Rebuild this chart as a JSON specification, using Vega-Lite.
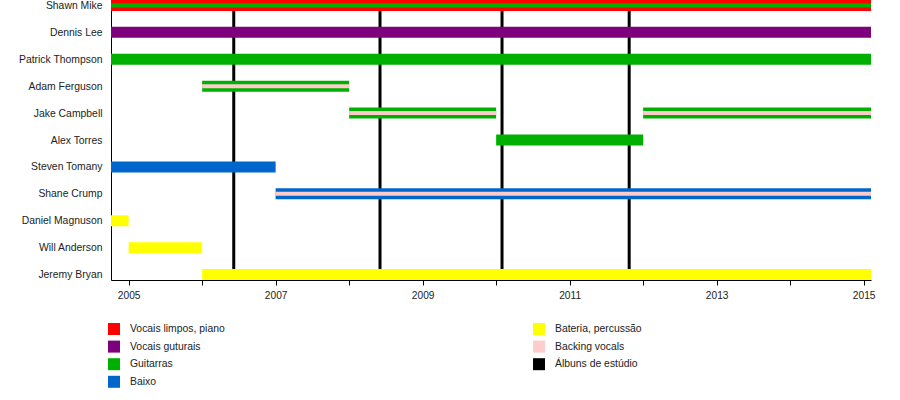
{
  "$schema": "https://vega.github.io/schema/vega-lite/v6.json",
  "autosize": "none",
  "width": 760,
  "height": 280,
  "padding": {"left": 111, "top": 0, "right": 29, "bottom": 120},
  "background": "white",
  "config": {"view": {"stroke": null}, "font": "Liberation Sans"},
  "datasets": {
    "albums": [
      {"album": 1, "date": 2006.43},
      {"album": 2, "date": 2008.42},
      {"album": 3, "date": 2010.08},
      {"album": 4, "date": 2011.81}
    ],
    "bars": [
      {"member": "Shawn Mike", "start": 2004.76, "end": 2015.1, "role": "Vocais limpos, piano"},
      {"member": "Dennis Lee", "start": 2004.76, "end": 2015.1, "role": "Vocais guturais"},
      {"member": "Patrick Thompson", "start": 2004.76, "end": 2015.1, "role": "Guitarras"},
      {"member": "Adam Ferguson", "start": 2006.0, "end": 2008.0, "role": "Guitarras"},
      {"member": "Jake Campbell", "start": 2008.0, "end": 2010.0, "role": "Guitarras"},
      {"member": "Jake Campbell", "start": 2012.0, "end": 2015.1, "role": "Guitarras"},
      {"member": "Alex Torres", "start": 2010.0, "end": 2012.0, "role": "Guitarras"},
      {"member": "Steven Tomany", "start": 2004.76, "end": 2007.0, "role": "Baixo"},
      {"member": "Shane Crump", "start": 2007.0, "end": 2015.1, "role": "Baixo"},
      {"member": "Daniel Magnuson", "start": 2004.76, "end": 2005.0, "role": "Bateria, percussão"},
      {"member": "Will Anderson", "start": 2005.0, "end": 2006.0, "role": "Bateria, percussão"},
      {"member": "Jeremy Bryan", "start": 2006.0, "end": 2015.1, "role": "Bateria, percussão"}
    ],
    "stripes": [
      {"member": "Shawn Mike", "start": 2004.76, "end": 2015.1, "role": "Guitarras"},
      {"member": "Adam Ferguson", "start": 2006.0, "end": 2008.0, "role": "Backing vocals"},
      {"member": "Jake Campbell", "start": 2008.0, "end": 2010.0, "role": "Backing vocals"},
      {"member": "Jake Campbell", "start": 2012.0, "end": 2015.1, "role": "Backing vocals"},
      {"member": "Shane Crump", "start": 2007.0, "end": 2015.1, "role": "Backing vocals"}
    ]
  },
  "layer": [
    {
      "data": {"name": "albums"},
      "mark": {"type": "rule", "color": "black", "strokeWidth": 3},
      "encoding": {
        "x": {"field": "date", "type": "quantitative", "scale": {"domain": [2004.76, 2015.1], "nice": false, "zero": false}}
      }
    },
    {
      "data": {"name": "bars"},
      "mark": {"type": "bar", "height": 11},
      "encoding": {
        "y": {
          "field": "member", "type": "nominal",
          "sort": ["Shawn Mike", "Dennis Lee", "Patrick Thompson", "Adam Ferguson", "Jake Campbell", "Alex Torres", "Steven Tomany", "Shane Crump", "Daniel Magnuson", "Will Anderson", "Jeremy Bryan"],
          "scale": {"type": "point", "padding": 0.2},
          "axis": {"title": null, "ticks": false, "labelPadding": 9, "labelFontSize": 10.4, "labelColor": "#222", "domainColor": "black", "labelFont": "Liberation Sans", "labelDy": 1}
        },
        "x": {
          "field": "start", "type": "quantitative",
          "scale": {"domain": [2004.76, 2015.1], "nice": false, "zero": false},
          "axis": {"title": null, "values": [2005, 2006, 2007, 2008, 2009, 2010, 2011, 2012, 2013, 2014, 2015], "format": "d", "labelExpr": "datum.value % 2 == 1 ? datum.label : ''", "tickSize": 5, "tickColor": "black", "domainColor": "black", "labelFontSize": 10.2, "labelPadding": 5, "labelColor": "#222", "grid": false, "labelFont": "Liberation Sans"}
        },
        "x2": {"field": "end"},
        "color": {
          "field": "role", "type": "nominal",
          "scale": {
            "domain": ["Vocais limpos, piano", "Vocais guturais", "Guitarras", "Baixo", "Bateria, percussão", "Backing vocals", "Álbuns de estúdio"],
            "range": ["#ff0000", "#7d007d", "#00b000", "#0066cc", "#ffff00", "#ffcccc", "#000000"]
          },
          "legend": {"title": null, "orient": "none", "legendX": -3, "legendY": 323, "columns": 2, "direction": "vertical", "columnPadding": 308, "rowPadding": 5.6, "symbolType": "square", "symbolSize": 144, "symbolStrokeWidth": 0, "labelFontSize": 10.4, "labelOffset": 10, "labelFont": "Liberation Sans", "labelColor": "#222", "gridAlign": "all"}
        }
      }
    },
    {
      "data": {"name": "stripes"},
      "mark": {"type": "bar", "height": 4},
      "encoding": {
        "y": {"field": "member", "type": "nominal", "sort": ["Shawn Mike", "Dennis Lee", "Patrick Thompson", "Adam Ferguson", "Jake Campbell", "Alex Torres", "Steven Tomany", "Shane Crump", "Daniel Magnuson", "Will Anderson", "Jeremy Bryan"]},
        "x": {"field": "start", "type": "quantitative", "scale": {"domain": [2004.76, 2015.1], "nice": false, "zero": false}},
        "x2": {"field": "end"},
        "color": {"field": "role", "type": "nominal"}
      }
    }
  ]
}
